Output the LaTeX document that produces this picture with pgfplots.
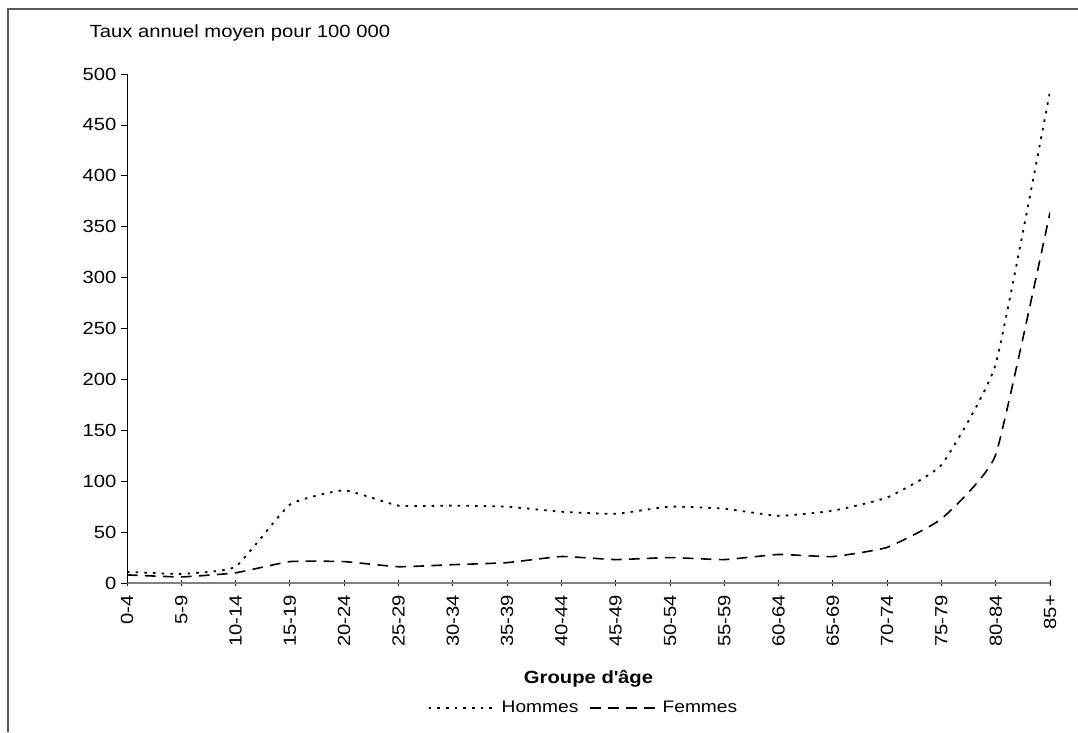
\documentclass[border=0pt]{standalone}
\usepackage{fontspec}
\setmainfont{Liberation Sans}[FakeStretch=1.15]
\usepackage{pgfplots}
\usepackage{pgfplotstable}
\pgfplotsset{compat=1.18}
\pgfplotstableread{
x hommes femmes
0 11 8
1 9 6
2 16 10
3 77 21
4 91 21
5 76 16
6 76 18
7 75 20
8 70 26
9 68 23
10 75 25
11 73 23
12 66 28
13 71 26
14 84 35
15 116 63
16 215 126
17 483 364
}\datatable
\begin{document}
\begin{tikzpicture}[font=\fontsize{13.2}{15}\selectfont]
\begin{axis}[
  at={(95.25pt,111.75pt)}, anchor=south west,
  scale only axis, width=692.25pt, height=381.75pt,
  xmin=0, xmax=17, ymin=0, ymax=500,
  axis x line=bottom, axis y line=left, axis line style={-},
  x axis line style={gray, line width=0.9pt},
  y axis line style={black, line width=0.6pt},
  xtick={0,...,17},
  xticklabels={0-4,5-9,10-14,15-19,20-24,25-29,30-34,35-39,40-44,45-49,50-54,55-59,60-64,65-69,70-74,75-79,80-84,85+},
  ytick={0,50,...,500},
  tick align=outside, major tick length=4.5pt,
  tick style={black, line width=0.6pt},
  x tick style={yshift=2.25pt},
  xticklabel style={rotate=90, anchor=east, xshift=-1pt},
  /pgf/number format/assume math mode=true,
  /pgf/number format/1000 sep={},
  yticklabel style={anchor=east},
  xlabel={\bfseries Groupe d\textquotesingle âge},
  xlabel style={at={(axis description cs:0.5,-0.1886)}, anchor=center},
  legend columns=2,
  legend style={draw=none, fill=none, at={(0.495,-0.2456)}, anchor=center,
    /tikz/every odd column/.append style={column sep=3pt},
    /tikz/every even column/.append style={column sep=6pt},
    font=\fontsize{12.5}{14}\selectfont},
  legend image code/.code={\draw[#1] (0pt,0pt) -- (49pt,0pt);},
]
\addplot[black, line width=1.35pt, dash pattern=on 1.9pt off 4.6pt, smooth, tension=0.25] table[x=x, y=hommes] {\datatable};
\addlegendentry{Hommes}
\addplot[black, line width=1.2pt, dash pattern=on 8pt off 5.5pt, smooth, tension=0.25] table[x=x, y=femmes] {\datatable};
\addlegendentry{Femmes}
\end{axis}
\node[anchor=west] at (63.75pt,524.25pt) {Taux annuel moyen pour 100 000};
\draw[gray!70!black, line width=0.9pt] (6pt,0pt) -- (6pt,542.25pt) -- (808.5pt,542.25pt);
\pgfresetboundingbox
\useasboundingbox (0,0) rectangle (808.5pt,549pt);
\end{tikzpicture}
\end{document}
